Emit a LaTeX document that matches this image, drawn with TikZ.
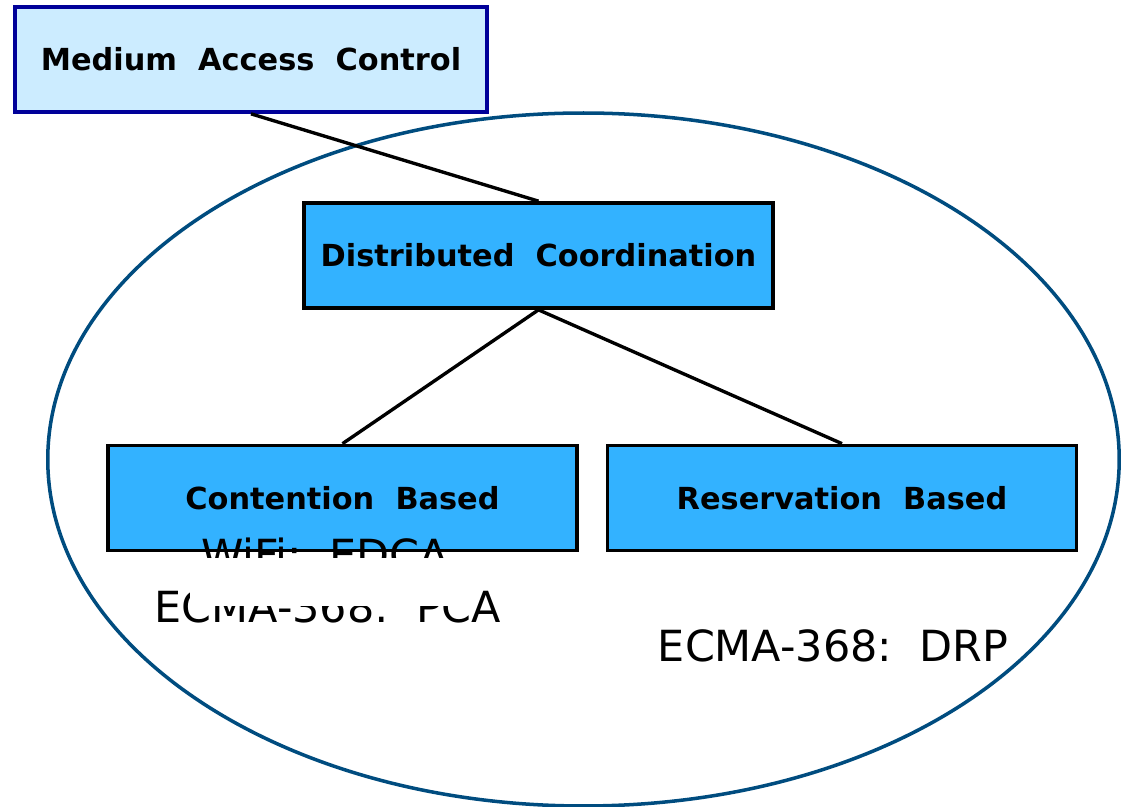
\documentclass[tikz,border=0pt]{standalone}
\usepackage{fontspec}
\setmainfont{DejaVu Sans}
\usepackage{xcolor}
\usepackage{tikz}
\usetikzlibrary{positioning}
\definecolor{macFill}{RGB}{204,236,255}
\definecolor{macEdge}{RGB}{0,0,153}
\definecolor{boxFill}{RGB}{51,178,255}
\definecolor{ovalEdge}{RGB}{0,76,127}

\begin{document}
\begin{tikzpicture}[x=0.025cm,y=-0.025cm,
  topbox/.style={draw=macEdge, fill=macFill, line width=2.6pt, minimum width=11.8cm, minimum height=2.625cm, font=\bfseries\fontsize{21.6}{26}\selectfont},
  classbox/.style={draw=black, fill=boxFill, line width=2.6pt, minimum width=11.73cm, minimum height=2.625cm, font=\bfseries\fontsize{21.6}{26}\selectfont},
  stdlabel/.style={anchor=base, inner sep=0pt, font=\fontsize{30.5}{34}\selectfont},
  link/.style={draw=black, line width=2.4pt}]
\useasboundingbox (0,0) rectangle (1121,807);
\draw[ovalEdge, line width=2.5pt] (583.5,459.5) ellipse [x radius=13.39cm, y radius=8.66cm];
\node[stdlabel] (pca) at (328,622) {ECMA-368:\ \ PCA};
\node[stdlabel] (drp) at (833,661) {ECMA-368:\ \ DRP};
\node[topbox] (mac) at (251,59.5) {Medium\ \ Access\ \ Control};
\node[classbox] (dcf) at (538.5,255.5) {Distributed\ \ Coordination};
\node[classbox] (cb) at (342.5,498) {Contention\ \ Based};
\node[classbox] (rb) at (842,498) {Reservation\ \ Based};
\draw[link] (mac.south) -- (dcf.north);
\draw[link] (dcf.south) -- (cb.north);
\draw[link] (dcf.south) -- (rb.north);
\node[stdlabel] (wifi) at (325,571) {WiFi:\ \ EDCA};
% white patch hiding the lower and upper parts of the two lines
\coordinate (patchA) at (190,558);
\coordinate (patchB) at (476,606);
\fill[white] (patchA) rectangle (patchB);
\end{tikzpicture}
\end{document}
